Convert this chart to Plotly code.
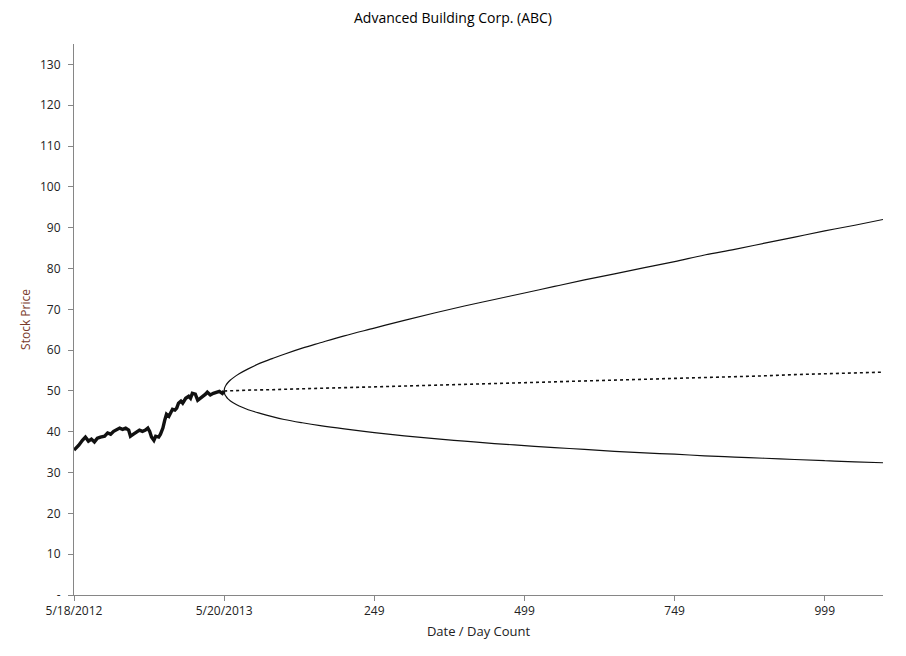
import plotly.graph_objects as go

# Historical prices (category index from 5/18/2012 to 5/20/2013)
hist_idx = [0, 8, 14, 19, 24, 29, 34, 39, 44, 51, 56, 61, 66, 71, 76, 81, 86, 91, 94, 99,
            104, 109, 114, 119, 123, 126, 129, 133, 136, 141, 144, 148, 151, 154, 158, 161,
            164, 168, 171, 174, 178, 181, 186, 191, 194, 197, 202, 206, 211, 216, 219, 222,
            227, 232, 237, 242, 247, 250]
hist_price = [35.5, 36.7, 37.9, 38.7, 37.7, 38.2, 37.5, 38.4, 38.7, 38.9, 39.7, 39.4, 40.1,
              40.4, 40.9, 40.6, 40.9, 40.4, 38.9, 39.4, 39.9, 40.4, 40.1, 40.4, 40.9, 40.1,
              38.7, 37.9, 38.9, 38.7, 39.4, 40.9, 42.8, 44.3, 43.8, 44.8, 45.5, 45.3, 45.8,
              47.0, 47.5, 47.0, 48.2, 48.7, 48.2, 49.4, 49.2, 47.7, 48.2, 48.7, 49.2, 49.7,
              49.0, 49.4, 49.7, 49.9, 49.4, 50.0]

# Forecast (day count after 5/20/2013)
day_count = [0, 1, 3, 6, 10, 15, 25, 40, 60, 80, 100, 130, 160, 200, 250, 300, 350, 400, 450,
             500, 550, 600, 650, 700, 750, 800, 850, 900, 950, 1000, 1050, 1097]
upper = [50.0, 50.8, 51.4, 52.0, 52.6, 53.2, 54.2, 55.4, 56.8, 57.9, 59.0, 60.5, 61.8, 63.5,
         65.4, 67.3, 69.1, 70.8, 72.4, 74.0, 75.6, 77.2, 78.7, 80.2, 81.7, 83.3, 84.7, 86.2,
         87.7, 89.2, 90.6, 92.0]
lower = [50.0, 49.2, 48.7, 48.1, 47.6, 47.1, 46.3, 45.4, 44.5, 43.7, 43.0, 42.2, 41.5, 40.7,
         39.8, 39.0, 38.3, 37.7, 37.1, 36.6, 36.1, 35.7, 35.2, 34.8, 34.5, 34.1, 33.8, 33.5,
         33.2, 32.9, 32.6, 32.4]
median = [50.0, 50.0, 50.0, 50.0, 50.0, 50.1, 50.1, 50.2, 50.2, 50.3, 50.4, 50.5, 50.7, 50.8,
          51.0, 51.2, 51.4, 51.6, 51.8, 52.0, 52.2, 52.4, 52.7, 52.9, 53.1, 53.3, 53.5, 53.7,
          54.0, 54.2, 54.4, 54.6]

x_tick_pos = [0, 250, 500, 750, 1000, 1250]
x_tick_text = ["5/18/2012", "5/20/2013", "249", "499", "749", "999"]
y_tick_vals = list(range(0, 131, 10))
y_tick_text = ["-"] + [str(v) for v in y_tick_vals[1:]]

start_idx = 250
fx = [start_idx + d for d in day_count]

FONT = "Open Sans"
fig = go.Figure()
fig.add_trace(go.Scatter(x=fx, y=upper, mode="lines", line=dict(color="#111111", width=1.2, shape="spline"), hoverinfo="skip"))
fig.add_trace(go.Scatter(x=fx, y=lower, mode="lines", line=dict(color="#111111", width=1.2, shape="spline"), hoverinfo="skip"))
fig.add_trace(go.Scatter(x=fx, y=median, mode="lines", line=dict(color="#111111", width=1.6, dash="dot"), hoverinfo="skip"))
fig.add_trace(go.Scatter(x=hist_idx, y=hist_price, mode="lines", line=dict(color="#111111", width=3.4), hoverinfo="skip"))

fig.update_layout(
    width=906, height=656,
    margin=dict(l=74, r=23, t=44, b=61),
    paper_bgcolor="white", plot_bgcolor="white",
    showlegend=False,
    title=dict(text="Advanced Building Corp. (ABC)", x=0.5, xanchor="center", y=0.972, yanchor="middle",
               font=dict(family=FONT, size=14, color="#000000")),
    font=dict(family=FONT, size=12, color="#222222"),
    xaxis=dict(range=[0, 1347], tickmode="array", tickvals=x_tick_pos, ticktext=x_tick_text,
               showgrid=False, zeroline=False, showline=True, linecolor="#868686", linewidth=1,
               ticks="outside", ticklen=5, tickcolor="#868686",
               tickfont=dict(family=FONT, size=12, color="#222222"),
               title=dict(text="Date / Day Count", standoff=8, font=dict(family=FONT, size=13, color="#222222"))),
    yaxis=dict(range=[0, 135], tickmode="array", tickvals=y_tick_vals, ticktext=y_tick_text,
               showgrid=False, zeroline=False, showline=True, linecolor="#868686", linewidth=1,
               ticks="outside", ticklen=5, tickcolor="#868686", ticklabelstandoff=5,
               tickfont=dict(family=FONT, size=12, color="#222222"),
               title=dict(text="Stock Price", standoff=6, font=dict(family=FONT, size=12, color="#7a3a2a"))),
)

fig.write_html("out.html")
